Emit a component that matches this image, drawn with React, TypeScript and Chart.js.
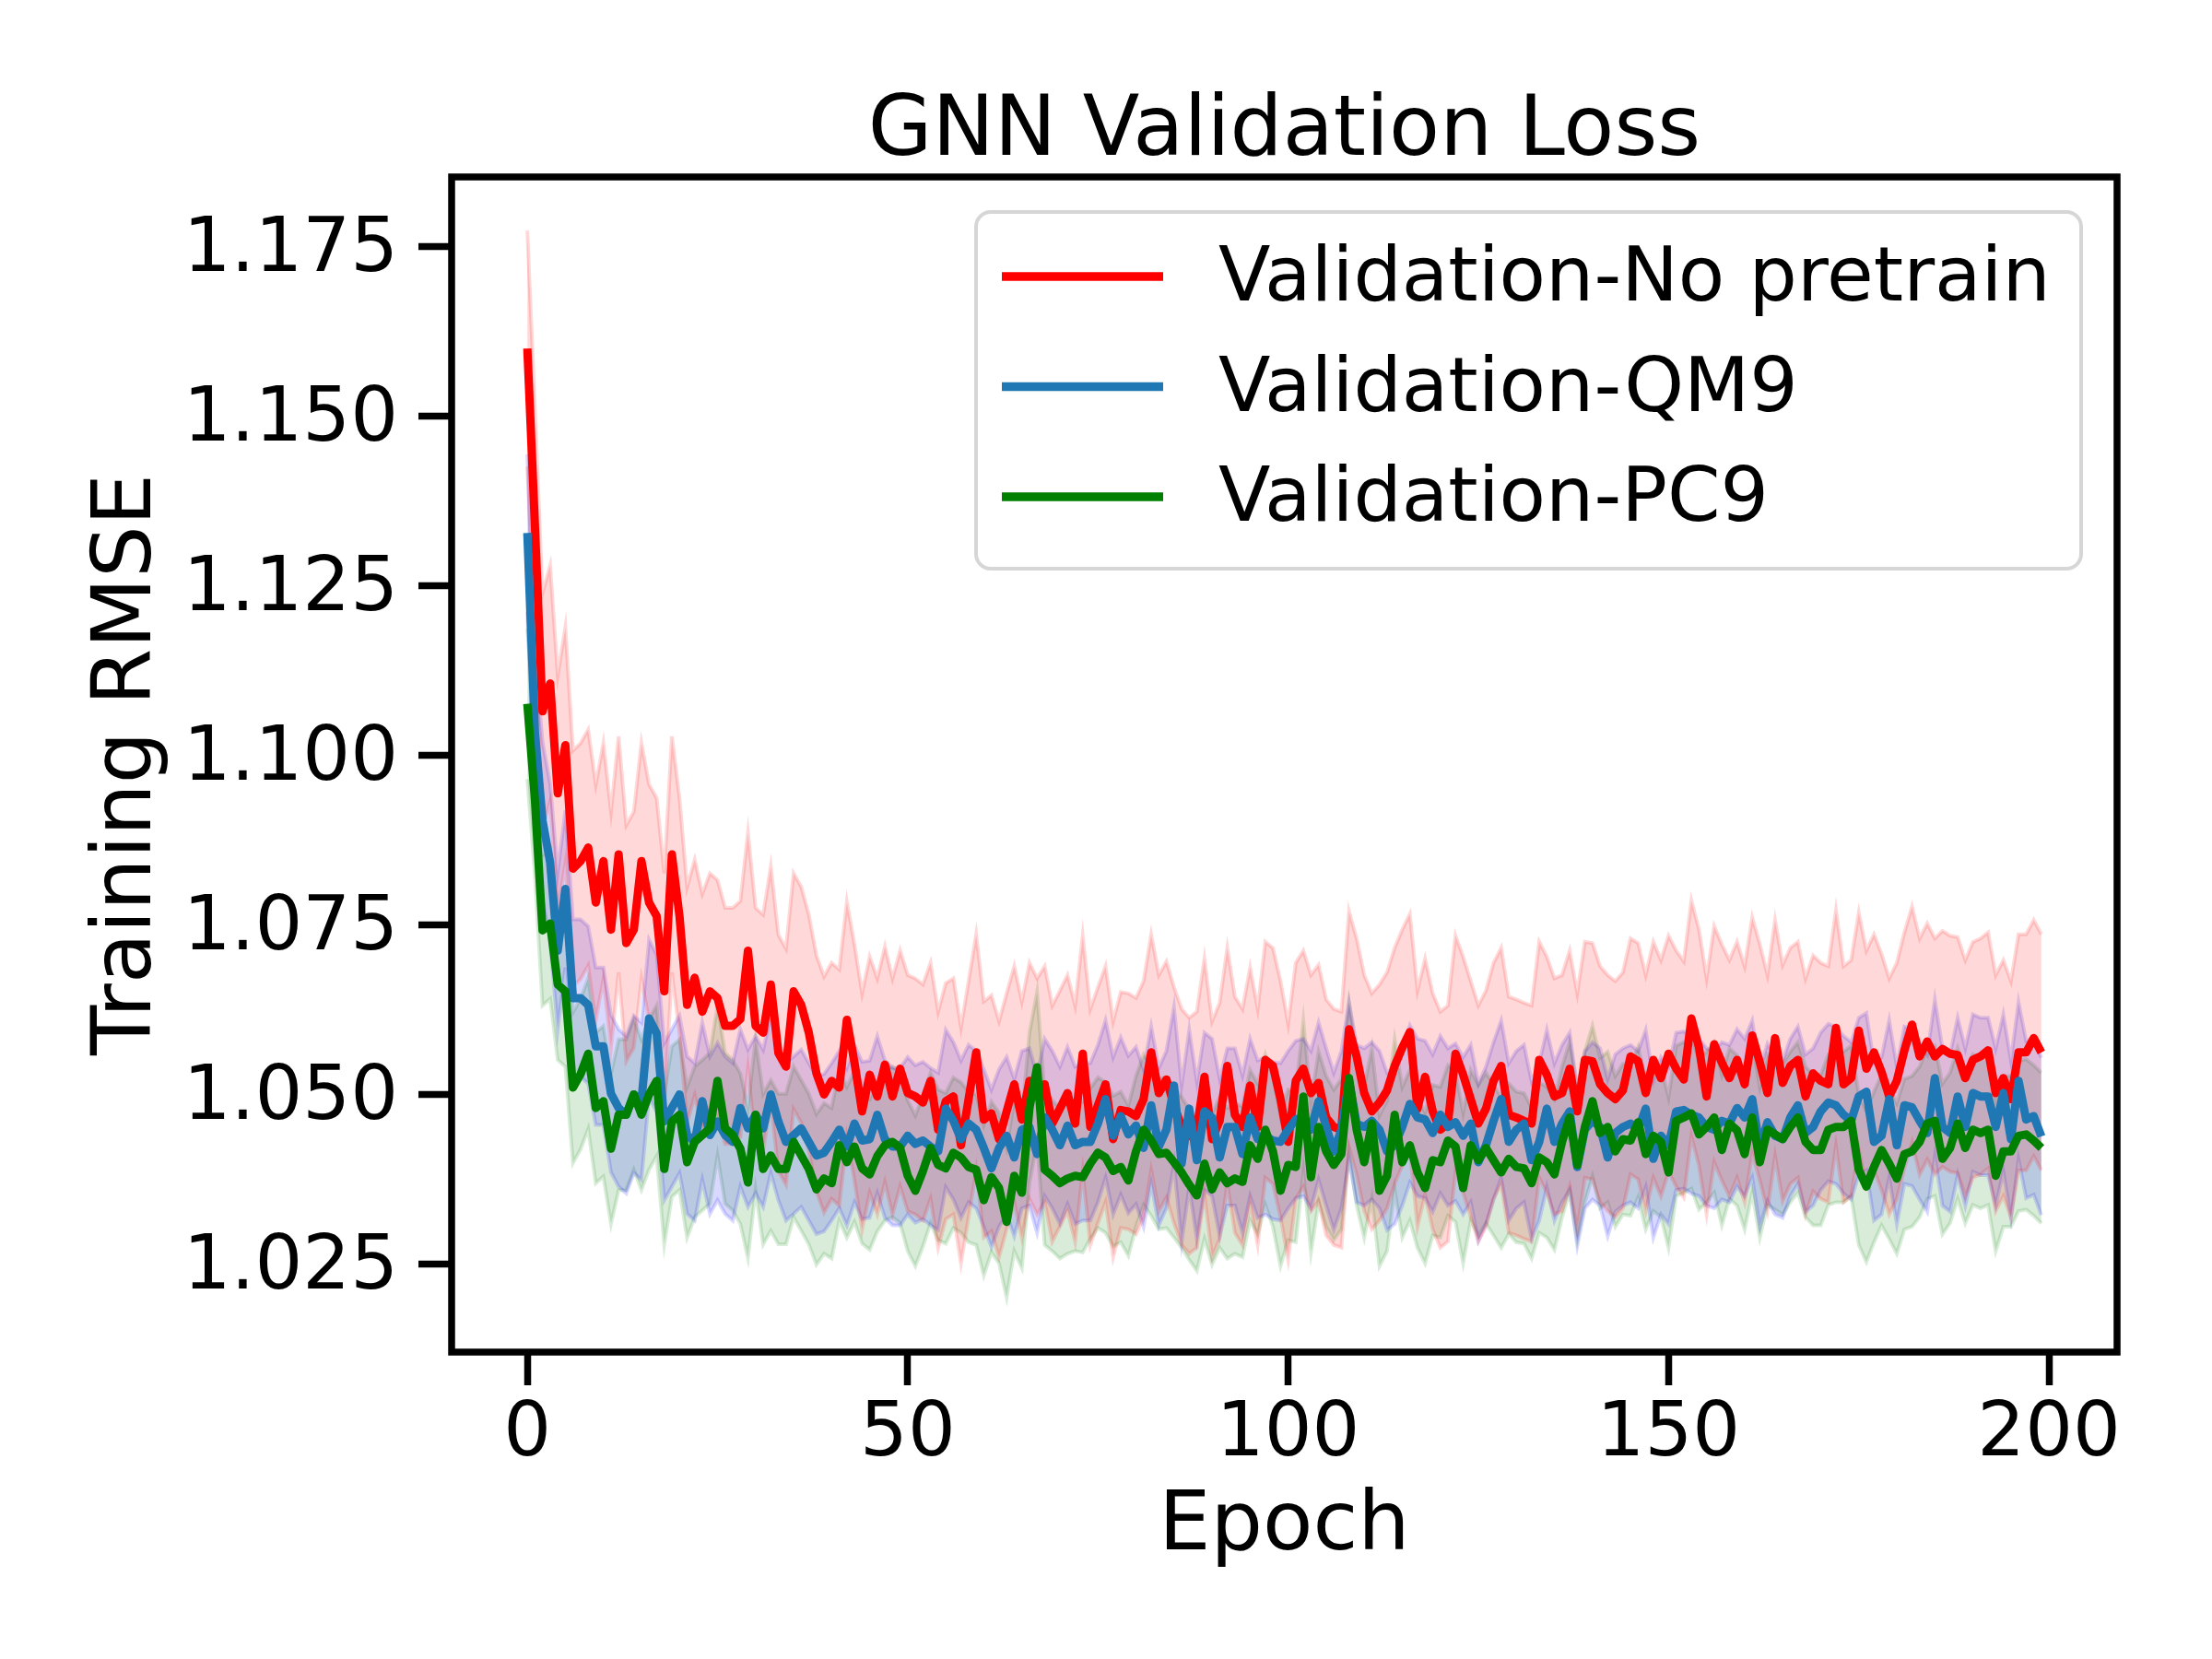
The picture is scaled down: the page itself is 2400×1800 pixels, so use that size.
import { useEffect, useRef } from "react";
import { Chart, registerables } from "chart.js";

Chart.register(...registerables);

const chartTitle = "GNN Validation Loss";
const xTitle = "Epoch";
const yTitle = "Training RMSE";
const seriesNames = ["Validation-No pretrain", "Validation-QM9", "Validation-PC9"];
const lineColors = ["#ff0000", "#1f77b4", "#008000"];
const bandColors = ["rgba(255,0,0,0.15)", "rgba(0,0,255,0.15)", "rgba(0,128,0,0.15)"];

const xTicks = [0, 50, 100, 150, 200];
const yTicks = [1.025, 1.05, 1.075, 1.1, 1.125, 1.15, 1.175];

const epochs = Array.from({ length: 200 }, (_, i) => i);

// mean validation RMSE per epoch
const noPretrain = [
  1.160, 1.1338, 1.1065, 1.1106, 1.0944, 1.1015, 1.0833, 1.0844, 1.0864, 1.0783,
  1.0844, 1.0743, 1.0854, 1.0723, 1.0743, 1.0844, 1.0783, 1.0763, 1.0652, 1.0854,
  1.0763, 1.0632, 1.0672, 1.0622, 1.0652, 1.0642, 1.0601, 1.0601, 1.0611, 1.0712,
  1.0601, 1.0591, 1.0662, 1.0561, 1.0541, 1.0652, 1.0632, 1.0591, 1.0531, 1.050,
  1.052, 1.051, 1.061, 1.0547, 1.0475, 1.0529, 1.0497, 1.0544, 1.0497, 1.0538,
  1.0502, 1.0497, 1.0488, 1.052, 1.0448, 1.049, 1.0497, 1.0425, 1.0493, 1.0562,
  1.0463, 1.0472, 1.0434, 1.0475, 1.0515, 1.0463, 1.052, 1.0497, 1.0515, 1.0457,
  1.0479, 1.0502, 1.0457, 1.056, 1.0452, 1.0484, 1.0515, 1.0434, 1.0477, 1.0475,
  1.0468, 1.0493, 1.0562, 1.0502, 1.0522, 1.0484, 1.0452, 1.0439, 1.0448, 1.0526,
  1.0434, 1.0461, 1.0542, 1.047, 1.0452, 1.0513, 1.0452, 1.0551, 1.0542, 1.0493,
  1.043, 1.052, 1.0538, 1.0502, 1.0517, 1.0466, 1.0452, 1.0448, 1.0596, 1.0556,
  1.0502, 1.0475, 1.0488, 1.0506, 1.0542, 1.0569, 1.0592, 1.0479, 1.0526, 1.0475,
  1.0448, 1.0457, 1.056, 1.0529, 1.0493, 1.0457, 1.0479, 1.052, 1.0542, 1.047,
  1.0466, 1.0461, 1.0457, 1.0551, 1.0529, 1.0497, 1.0502, 1.0538, 1.0475, 1.0551,
  1.0549, 1.0515, 1.0502, 1.0493, 1.0506, 1.0556, 1.0549, 1.0502, 1.0551, 1.0524,
  1.056, 1.0538, 1.0522, 1.0612, 1.0569, 1.0497, 1.0574, 1.0547, 1.0524, 1.0551,
  1.0515, 1.0587, 1.0547, 1.0502, 1.0583, 1.0517, 1.0542, 1.0551, 1.0497, 1.0531,
  1.052, 1.0515, 1.0598, 1.0515, 1.0524, 1.0594, 1.0538, 1.0562, 1.0533, 1.0497,
  1.052, 1.0565, 1.0603, 1.0556, 1.0578, 1.0556, 1.0567, 1.056, 1.0558, 1.0524,
  1.0551, 1.0556, 1.0565, 1.0502, 1.0524, 1.0493, 1.0562, 1.0562, 1.0583, 1.0562,
];

const qm9 = [
  1.1328, 1.1035, 1.0904, 1.0842, 1.0712, 1.0803, 1.0642, 1.0642, 1.0632, 1.0571,
  1.0571, 1.0501, 1.048, 1.047, 1.050, 1.049, 1.0612, 1.059, 1.046, 1.048,
  1.050, 1.044, 1.043, 1.049, 1.044, 1.046, 1.044, 1.043, 1.048, 1.045,
  1.047, 1.045, 1.050, 1.046, 1.043, 1.044, 1.045, 1.043, 1.041, 1.0414,
  1.043, 1.0448, 1.0423, 1.0457, 1.0432, 1.0434, 1.047, 1.0434, 1.0423, 1.0423,
  1.0439, 1.0427, 1.0432, 1.0423, 1.0416, 1.0479, 1.0461, 1.0434, 1.0457, 1.0448,
  1.0421, 1.0391, 1.0421, 1.0439, 1.0407, 1.0448, 1.0452, 1.0412, 1.0466, 1.0448,
  1.0425, 1.0454, 1.0425, 1.043, 1.043, 1.0457, 1.0493, 1.0439, 1.0468, 1.0441,
  1.0454, 1.0421, 1.0484, 1.0423, 1.0448, 1.0513, 1.0398, 1.0479, 1.0403, 1.0475,
  1.0466, 1.0407, 1.0452, 1.0452, 1.0412, 1.0466, 1.0434, 1.0439, 1.0432, 1.043,
  1.0448, 1.0463, 1.0466, 1.0448, 1.049, 1.0452, 1.0416, 1.0448, 1.052, 1.0457,
  1.0452, 1.0461, 1.0448, 1.0416, 1.0425, 1.0452, 1.0486, 1.0466, 1.0463, 1.0443,
  1.047, 1.0452, 1.0459, 1.0439, 1.0457, 1.040, 1.0425, 1.0461, 1.0493, 1.043,
  1.0448, 1.0457, 1.0403, 1.043, 1.0479, 1.043, 1.0457, 1.0475, 1.0393, 1.0448,
  1.0461, 1.0452, 1.0407, 1.0443, 1.0452, 1.0457, 1.0448, 1.0479, 1.0405, 1.0439,
  1.0425, 1.0475, 1.0477, 1.047, 1.0466, 1.0452, 1.0448, 1.0461, 1.0457, 1.048,
  1.0466, 1.0493, 1.0421, 1.0459, 1.0439, 1.0434, 1.0466, 1.0484, 1.0443, 1.0452,
  1.0475, 1.0488, 1.0484, 1.047, 1.0461, 1.0497, 1.0504, 1.043, 1.0439, 1.0493,
  1.0425, 1.0484, 1.0481, 1.0461, 1.0443, 1.0524, 1.0452, 1.0443, 1.0497, 1.0452,
  1.0502, 1.0497, 1.0497, 1.0452, 1.0502, 1.0434, 1.052, 1.0463, 1.0468, 1.0438,
];

const pc9 = [
  1.1076, 1.0934, 1.0742, 1.0752, 1.0662, 1.0652, 1.051, 1.053, 1.056, 1.048,
  1.049, 1.042, 1.047, 1.047, 1.050, 1.047, 1.050, 1.052, 1.039, 1.046,
  1.047, 1.040, 1.043, 1.044, 1.045, 1.052, 1.045, 1.044, 1.042, 1.037,
  1.047, 1.039, 1.041, 1.039, 1.039, 1.043, 1.041, 1.039, 1.036, 1.0376,
  1.0369, 1.0425, 1.040, 1.0423, 1.0391, 1.0382, 1.0409, 1.0425, 1.043, 1.0421,
  1.038, 1.0358, 1.0387, 1.0421, 1.0396, 1.0391, 1.0414, 1.0407, 1.0393, 1.0389,
  1.0344, 1.0378, 1.0362, 1.0312, 1.038, 1.0355, 1.048, 1.054, 1.0389, 1.038,
  1.0369, 1.0376, 1.038, 1.0378, 1.0398, 1.0414, 1.0407, 1.0387, 1.0393, 1.0373,
  1.0416, 1.0448, 1.0432, 1.0412, 1.0414, 1.040, 1.0385, 1.0367, 1.0351, 1.0398,
  1.036, 1.0385, 1.0369, 1.0376, 1.0371, 1.0425, 1.0405, 1.0448, 1.0416, 1.0358,
  1.0396, 1.0393, 1.0497, 1.0378, 1.0452, 1.0416, 1.0396, 1.0412, 1.0524, 1.0448,
  1.040, 1.0457, 1.0358, 1.038, 1.047, 1.040, 1.0425, 1.0385, 1.0362, 1.0403,
  1.040, 1.0432, 1.0423, 1.0362, 1.0425, 1.0403, 1.0421, 1.0403, 1.0385, 1.0405,
  1.0393, 1.0391, 1.0369, 1.0407, 1.040, 1.0382, 1.043, 1.0466, 1.0396, 1.0452,
  1.049, 1.0443, 1.0452, 1.0416, 1.0434, 1.0432, 1.0459, 1.0412, 1.0439, 1.043,
  1.0385, 1.0461, 1.0466, 1.0472, 1.0441, 1.0452, 1.0466, 1.0418, 1.0457, 1.0447,
  1.0412, 1.0466, 1.040, 1.0448, 1.0441, 1.0434, 1.0452, 1.0466, 1.043, 1.0418,
  1.0418, 1.0448, 1.0452, 1.0452, 1.0461, 1.0389, 1.0364, 1.0393, 1.0418, 1.0398,
  1.0376, 1.0412, 1.0416, 1.043, 1.0457, 1.0461, 1.0405, 1.0421, 1.0457, 1.0421,
  1.0448, 1.0443, 1.0448, 1.038, 1.0416, 1.0416, 1.0439, 1.0441, 1.0432, 1.0421,
];

// standard deviation of each run (width of the shaded band)
const stdDevs = [0.0174, 0.0116, 0.0111];

const fontFamily = '"DejaVu Sans", sans-serif';

const decorPlugin = {
  id: "decor",
  afterDraw(chart: any) {
    const { ctx, chartArea: a } = chart;
    ctx.save();
    // axes frame
    ctx.strokeStyle = "#000";
    ctx.lineWidth = 7.5;
    ctx.strokeRect(a.left, a.top, a.right - a.left, a.bottom - a.top);

    // title
    ctx.fillStyle = "#000";
    ctx.font = `90px ${fontFamily}`;
    ctx.textAlign = "center";
    ctx.textBaseline = "alphabetic";
    ctx.fillText(chartTitle, (a.left + a.right) / 2, a.top - 24);

    // legend
    const boxW = 1199;
    const boxH = 387;
    const bx = a.right - 39 - boxW;
    const by = a.top + 38;
    ctx.beginPath();
    ctx.roundRect(bx, by, boxW, boxH, 16);
    ctx.fillStyle = "rgba(255,255,255,0.8)";
    ctx.fill();
    ctx.strokeStyle = "#d6d6d6";
    ctx.lineWidth = 4;
    ctx.stroke();

    ctx.font = `82.5px ${fontFamily}`;
    ctx.textAlign = "left";
    ctx.textBaseline = "middle";
    seriesNames.forEach((name, i) => {
      const y = by + 70 + i * 119.5;
      ctx.strokeStyle = lineColors[i];
      ctx.lineWidth = 9.5;
      ctx.beginPath();
      ctx.moveTo(bx + 28, y);
      ctx.lineTo(bx + 203, y);
      ctx.stroke();
      ctx.fillStyle = "#000";
      ctx.fillText(name, bx + 263, y + 5);
    });
    ctx.restore();
  },
};

export default function App() {
  const canvasRef = useRef<HTMLCanvasElement>(null);

  useEffect(() => {
    document.body.style.margin = "0";
    if (!canvasRef.current) return;

    const means = [noPretrain, qm9, pc9];
    const bandSets: any[] = [];
    const lineSets: any[] = [];
    means.forEach((m, s) => {
      const lower = epochs.map((e, i) => ({ x: e, y: m[i] - stdDevs[s] }));
      const upper = epochs.map((e, i) => ({ x: e, y: m[i] + stdDevs[s] }));
      bandSets.push({
        data: lower,
        borderColor: bandColors[s],
        borderWidth: 4,
        pointRadius: 0,
        fill: false,
        order: 10 + s * 2,
      });
      bandSets.push({
        data: upper,
        borderColor: bandColors[s],
        backgroundColor: bandColors[s],
        borderWidth: 4,
        pointRadius: 0,
        fill: "-1",
        order: 10 + s * 2,
      });
      lineSets.push({
        label: seriesNames[s],
        data: epochs.map((e, i) => ({ x: e, y: m[i] })),
        borderColor: lineColors[s],
        borderWidth: 9,
        pointRadius: 0,
        fill: false,
        borderJoinStyle: "round",
        order: 2 - s,
      });
    });

    const tickFont = { family: fontFamily, size: 81.5 };
    const titleFont = { family: fontFamily, size: 89 };

    const chart = new Chart(canvasRef.current, {
      type: "line",
      data: { datasets: [...bandSets, ...lineSets] },
      options: {
        animation: false,
        responsive: false,
        layout: { padding: { left: 0, top: 192, right: 103, bottom: 0 } },
        plugins: {
          legend: { display: false },
          tooltip: { enabled: false },
          title: { display: false },
        },
        scales: {
          x: {
            type: "linear",
            min: -9.95,
            max: 208.95,
            afterBuildTicks: (scale: any) => {
              scale.ticks = xTicks.map((v) => ({ value: v }));
            },
            afterFit: (scale: any) => {
              scale.height = 333;
            },
            ticks: {
              font: tickFont,
              color: "#000",
              padding: 6,
              maxRotation: 0,
              autoSkip: false,
              callback: (v: any) => String(v),
            },
            grid: {
              display: true,
              drawOnChartArea: false,
              drawTicks: true,
              tickLength: 36,
              tickWidth: 7.5,
              tickColor: "#000",
            },
            border: { display: false },
            title: {
              display: true,
              text: xTitle,
              font: titleFont,
              color: "#000",
              padding: { top: 0, bottom: 89 },
            },
          },
          y: {
            type: "linear",
            min: 1.012,
            max: 1.1853,
            afterBuildTicks: (scale: any) => {
              scale.ticks = yTicks.map((v) => ({ value: v }));
            },
            afterFit: (scale: any) => {
              scale.width = 490;
            },
            ticks: {
              font: tickFont,
              color: "#000",
              padding: 22,
              labelOffset: 5,
              autoSkip: false,
              callback: (v: any) => Number(v).toFixed(3),
            },
            grid: {
              display: true,
              drawOnChartArea: false,
              drawTicks: true,
              tickLength: 36,
              tickWidth: 7.5,
              tickColor: "#000",
            },
            border: { display: false },
            title: {
              display: true,
              text: yTitle,
              font: titleFont,
              color: "#000",
              padding: { top: 86, bottom: 0 },
            },
          },
        },
      },
      plugins: [decorPlugin],
    });

    return () => chart.destroy();
  }, []);

  return (
    <div style={{ width: 2400, height: 1800, background: "#fff" }}>
      <canvas ref={canvasRef} width={2400} height={1800} style={{ display: "block" }} />
    </div>
  );
}
